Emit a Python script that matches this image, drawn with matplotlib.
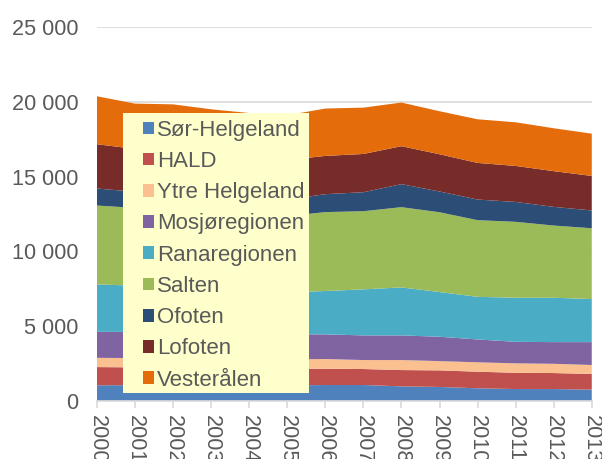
import matplotlib
matplotlib.use('Agg')
import matplotlib.pyplot as plt
from matplotlib.patches import Rectangle
import numpy as np

years = [2000, 2001, 2002, 2003, 2004, 2005, 2006, 2007, 2008, 2009, 2010, 2011, 2012, 2013]
regions = ['Sør-Helgeland', 'HALD', 'Ytre Helgeland', 'Mosjøregionen', 'Ranaregionen',
           'Salten', 'Ofoten', 'Lofoten', 'Vesterålen']

sor_helgeland = [1030, 1040, 1040, 1040, 1030, 1030, 1050, 1050, 960, 920, 830, 780, 780, 740]
hald = [1220, 1190, 1160, 1140, 1130, 1110, 1090, 1070, 1090, 1110, 1110, 1090, 1070, 1050]
ytre_helgeland = [620, 620, 620, 620, 620, 620, 650, 600, 670, 620, 630, 630, 620, 600]
mosjoregionen = [1740, 1750, 1730, 1700, 1680, 1680, 1650, 1650, 1650, 1630, 1530, 1440, 1450, 1530]
ranaregionen = [3170, 3100, 3000, 2900, 2840, 2810, 2900, 3080, 3210, 2990, 2850, 2950, 2970, 2880]
salten = [5280, 5200, 5150, 5100, 5050, 5100, 5280, 5230, 5370, 5340, 5130, 5080, 4830, 4740]
ofoten = [1140, 1080, 1050, 1050, 1050, 1100, 1200, 1270, 1540, 1390, 1380, 1330, 1250, 1190]
lofoten = [2960, 2870, 2800, 2700, 2650, 2650, 2560, 2560, 2540, 2490, 2450, 2410, 2390, 2310]
vesteralen = [3210, 3030, 3280, 3250, 3200, 3000, 3170, 3100, 2920, 2880, 2920, 2920, 2870, 2830]

series = [sor_helgeland, hald, ytre_helgeland, mosjoregionen, ranaregionen,
          salten, ofoten, lofoten, vesteralen]
colors = ['#4F81BD', '#C0504D', '#FAC090', '#8064A2', '#4BACC6',
          '#9BBB59', '#2C4D75', '#772C2A', '#E46C0A']

plt.rcParams['font.family'] = ['Liberation Sans', 'DejaVu Sans']

fig = plt.figure(figsize=(6.02, 4.59), dpi=100)
ax = fig.add_axes([0.161, 0.127, 0.822, 0.814])

ax.stackplot(years, *series, colors=colors, labels=regions, linewidth=0)

ax.set_xlim(years[0], years[-1])
ax.set_ylim(0, 25000)
ax.set_yticks(np.arange(0, 25001, 5000))
ax.set_yticklabels(['{:,}'.format(v).replace(',', ' ') for v in range(0, 25001, 5000)])
ax.set_xticks(years)
ax.set_xticklabels([str(y) for y in years], rotation=270, va='top', ha='center')

ax.grid(axis='y', color='#D9D9D9', linewidth=1.2)
ax.set_axisbelow(True)
for s in ['top', 'right', 'left']:
    ax.spines[s].set_visible(False)
ax.spines['bottom'].set_color('#D9D9D9')
ax.spines['bottom'].set_linewidth(1.2)
ax.spines['bottom'].set_zorder(5)

ax.tick_params(axis='y', length=0, pad=13.5, labelsize=15.6, labelcolor='#595959')
ax.tick_params(axis='x', length=5, width=1.2, color='#D9D9D9', pad=5,
               labelsize=15.6, labelcolor='#595959')

# yellow legend box drawn separately so the padding can match
ax.add_patch(Rectangle((0.0525, 0.021), 0.3755, 0.749, transform=ax.transAxes,
                       facecolor='#FFFFCC', edgecolor='none', zorder=4))
leg = ax.legend(loc='upper left', bbox_to_anchor=(0.093, 0.752), fontsize=16.0,
                frameon=False, handlelength=0.5, handleheight=0.5,
                handletextpad=0.15, labelspacing=0.46, borderpad=0,
                borderaxespad=0)
leg.set_zorder(6)
for t in leg.get_texts():
    t.set_color('#595959')

fig.savefig('out.png', dpi=100)
